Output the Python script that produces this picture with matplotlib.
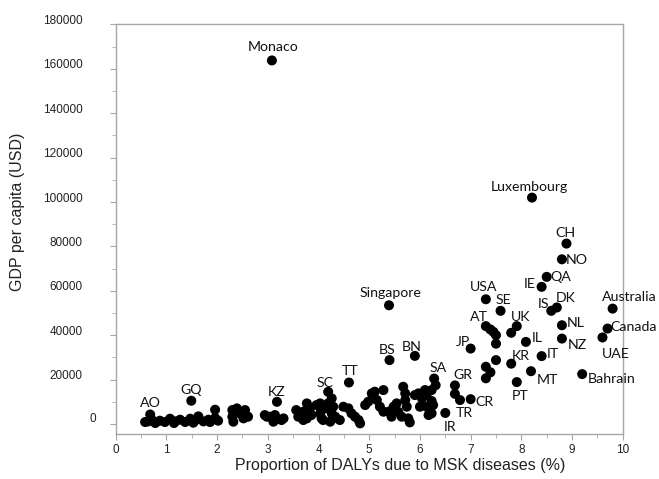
import numpy as np
import matplotlib.pyplot as plt
import matplotlib.transforms as mtransforms

# ─── Dados ────────────────────────────────────────────────────────────────────

# países com rótulo
lab_names = ['Monaco', 'Luxembourg', 'Singapore', 'CH', 'NO', 'QA', 'IE', 'USA',
             'SE', 'IS', 'DK', 'Australia', 'NL', 'Canada', 'UAE', 'NZ', 'AT',
             'UK', 'IL', 'JP', 'IT', 'KR', 'MT', 'Bahrain', 'PT', 'GR', 'CR',
             'TR', 'IR', 'SA', 'BN', 'BS', 'TT', 'SC', 'KZ', 'GQ', 'AO']
lab_msk = [3.08, 8.21, 5.39, 8.89, 8.80, 8.50, 8.40, 7.30,
           7.59, 8.59, 8.70, 9.80, 8.80, 9.70, 9.60, 8.80, 7.30,
           7.91, 8.09, 7.00, 8.40, 7.80, 8.19, 9.20, 7.91, 6.69, 7.00,
           6.79, 6.50, 6.28, 5.90, 5.40, 4.60, 4.19, 3.18, 1.49, 0.68]
lab_gdp = [163800, 102000, 53500, 81300, 74200, 66300, 61800, 56200,
           51000, 51000, 52500, 52000, 44500, 43000, 39000, 38500, 44100,
           44100, 37000, 34000, 30600, 27200, 23800, 22500, 18900, 17400, 11200,
           10800, 5000, 20500, 30700, 28800, 18700, 14500, 10000, 10500, 4300]

# demais países (sem rótulo)
other_msk = [
    7.39, 7.45, 7.50, 7.80, 7.50, 7.50, 7.30, 7.39, 7.30, 6.69, 6.31, 6.23, 6.23, 6.23,
    2.30, 2.39, 2.30, 2.45, 2.52, 2.55, 2.61, 2.32, 2.94, 3.04, 3.14, 3.31, 2.98, 3.11, 3.27,
    3.56, 3.64, 3.70, 3.77, 3.83, 3.86, 3.96, 4.03, 4.06, 4.13, 4.19, 4.26, 4.29,
    3.77, 3.70, 4.09, 4.42, 4.49, 3.60, 4.03,
    4.26, 4.29, 4.33, 4.23, 4.59, 4.65, 4.72, 4.79, 4.82, 4.92, 4.98, 5.05, 5.11, 5.15,
    5.21, 5.28, 5.28, 5.38, 5.44, 5.48, 5.54, 5.57, 5.64, 5.67, 5.71, 5.71, 5.74, 5.77,
    5.80, 5.90, 5.97, 6.04, 6.00, 6.10, 6.13, 6.13, 6.17, 6.26,
    0.58, 0.64, 0.71, 0.78, 0.87, 0.97, 1.07, 1.15, 1.17, 1.27, 1.37, 1.47, 1.53, 1.56,
    1.63, 1.73, 1.83, 1.86, 1.96, 1.96, 2.02,
]
other_gdp = [
    42600, 41500, 40000, 41100, 36200, 28800, 25800, 23300, 20600, 13600, 17500, 15300, 10400, 4800,
    6300, 7050, 3300, 4800, 2550, 6300, 3300, 1050, 4050, 3300, 4050, 2550, 3300, 1050, 1800,
    6300, 3300, 5550, 2550, 7050, 4050, 8550, 4800, 2550, 7050, 9300, 4800, 2550,
    9300, 1800, 1800, 1800, 7800, 3300, 9300,
    11550, 7800, 3300, 1050, 7050, 4800, 3300, 1800, 300, 8550, 10050, 13800, 14550, 10800,
    7800, 15300, 5550, 5550, 3300, 7800, 9300, 5550, 3300, 16800, 13800, 10800, 7800, 2550,
    750, 13050, 13800, 11550, 7800, 15300, 13050, 7800, 4050, 8550,
    900, 1200, 1950, 450, 1500, 900, 2400, 450, 1200, 1950, 900, 2400, 600, 1500,
    3450, 1200, 1950, 900, 6450, 2700, 1500,
]

# deslocamento dos rótulos (pixels, centro do texto em relação ao ponto)
label_offset = {
    'Monaco': (1, 13), 'Luxembourg': (-3, 11), 'Singapore': (1, 12),
    'CH': (-1, 11), 'NO': (15, -1), 'QA': (14, 0), 'IE': (-12, 3),
    'USA': (-2, 12), 'SE': (3, 11), 'IS': (-8, 7), 'DK': (9, 9),
    'Australia': (17, 12), 'NL': (14, 2), 'Canada': (26, 2), 'UAE': (13, -17),
    'NZ': (15, -6), 'AT': (-7, 9), 'UK': (4, 9), 'IL': (11, 4), 'JP': (-8, 7),
    'IT': (11, 2), 'KR': (10, 8), 'MT': (16, -9), 'Bahrain': (29, -5),
    'PT': (3, -14), 'GR': (8, 10), 'CR': (14, -3), 'TR': (4, -13), 'IR': (5, -14),
    'SA': (4, 11), 'BN': (-3, 9), 'BS': (-2, 10), 'TT': (1, 12), 'SC': (-3, 9),
    'KZ': (0, 10), 'GQ': (0, 11), 'AO': (0, 11),
}

# ─── Figura ───────────────────────────────────────────────────────────────────

plt.rcParams['font.family'] = ['Liberation Sans', 'DejaVu Sans']

fig = plt.figure(figsize=(6.59, 4.79), dpi=100)
ax = fig.add_axes([0.1756, 0.0939, 0.7694, 0.855])

ax.scatter(other_msk, other_gdp, s=52, c='black', edgecolors='none', zorder=3)
ax.scatter(lab_msk, lab_gdp, s=52, c='black', edgecolors='none', zorder=3)

for name, x, y in zip(lab_names, lab_msk, lab_gdp):
    dx, dy = label_offset[name]
    ax.annotate(name, (x, y), xytext=(dx, dy), textcoords='offset pixels',
                ha='center', va='center', fontsize=10.2, family=['Lato', 'DejaVu Sans'],
                color='#111111')

ax.set_xlim(0, 10)
ax.set_ylim(-4500, 180000)
ax.set_xticks(np.arange(0, 11, 1))
ax.set_xticks(np.arange(0, 10.01, 0.5), minor=True)
ax.set_yticks(np.arange(0, 180001, 20000))
ax.set_yticks(np.arange(0, 180001, 10000), minor=True)

for s in ax.spines.values():
    s.set_color('#a6a6a6')
    s.set_linewidth(1.0)

ax.tick_params(which='both', direction='out', colors='#a6a6a6', labelcolor='#222222',
               labelsize=8.5)
ax.tick_params(which='major', length=4)
ax.tick_params(which='minor', length=3)
ax.tick_params(axis='y', pad=20)
ax.tick_params(axis='x', pad=3)

# rótulos do eixo y ligeiramente acima dos ticks, como no original
shift = mtransforms.ScaledTranslation(0, 5 / 100, fig.dpi_scale_trans)
for lab in ax.get_yticklabels():
    lab.set_transform(lab.get_transform() + shift)
zero_shift = mtransforms.ScaledTranslation(14 / 100, 2 / 100, fig.dpi_scale_trans)
ylabs = ax.get_yticklabels()
ylabs[0].set_transform(ylabs[0].get_transform() + zero_shift)

ax.set_xlabel('Proportion of DALYs due to MSK diseases (%)', fontsize=11.5, color='#222222')
ax.set_ylabel('GDP per capita (USD)', fontsize=11.5, color='#222222')
ax.xaxis.set_label_coords(0.561, -0.076)
ax.xaxis.label.set_va('center')
ax.yaxis.set_label_coords(-0.193, 0.542)
ax.yaxis.label.set_va('center')

fig.savefig('out.png', dpi=100)
